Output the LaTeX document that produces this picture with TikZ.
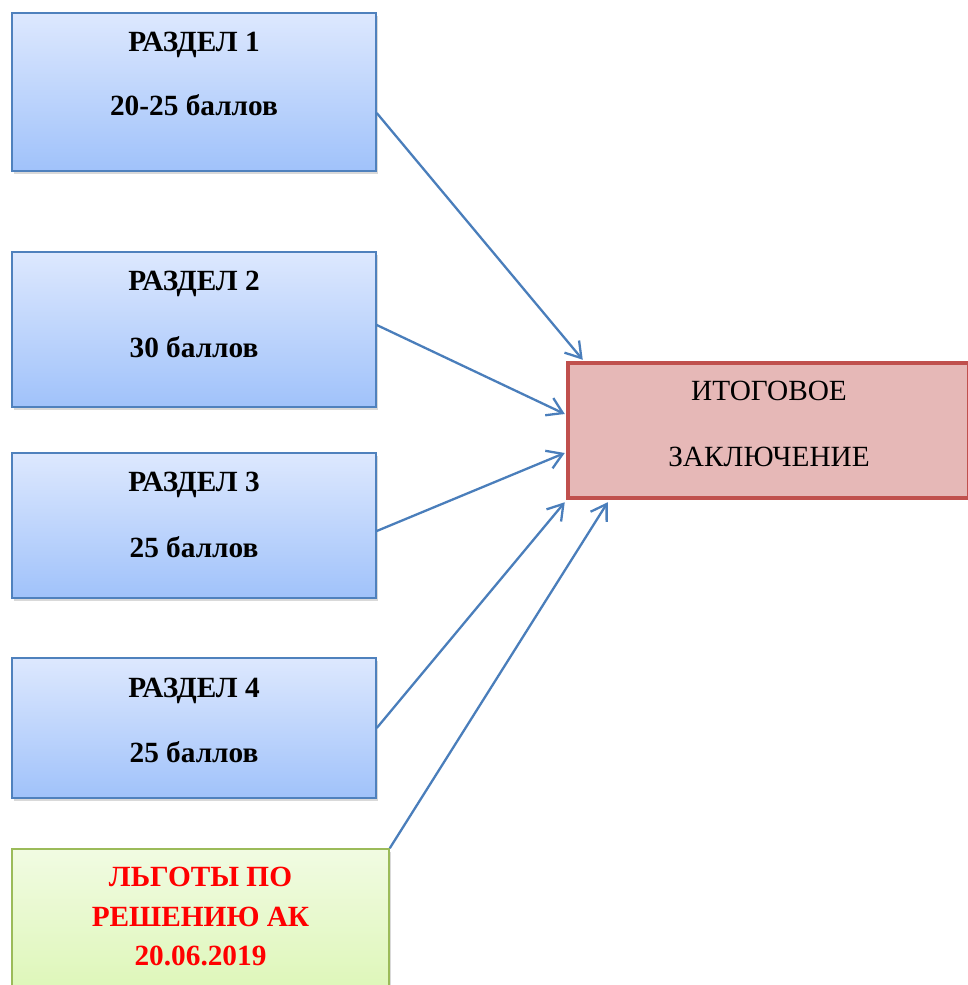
\documentclass[tikz,border=0pt]{standalone}
\usepackage{fontspec}
\setmainfont{Liberation Serif}
\usetikzlibrary{arrows.meta,shadows,calc}
\definecolor{bluetop}{RGB}{221,232,254}
\definecolor{bluebot}{RGB}{160,194,250}
\definecolor{blueline}{RGB}{79,129,189}
\definecolor{greentop}{RGB}{241,251,226}
\definecolor{greenbot}{RGB}{214,245,168}
\definecolor{greenline}{RGB}{155,187,89}
\definecolor{redfill}{RGB}{230,184,183}
\definecolor{redline}{RGB}{192,80,77}
\definecolor{arrowblue}{RGB}{74,126,187}
\begin{document}
\begin{tikzpicture}[x=1pt,y=-1pt,
  bluebox/.style={draw=blueline, line width=1.5pt, top color=bluetop, bottom color=bluebot,
    drop shadow={shadow xshift=2pt, shadow yshift=-2.5pt, opacity=0.3}, inner sep=0pt},
  greenbox/.style={draw=greenline, line width=1.5pt, top color=greentop, bottom color=greenbot,
    drop shadow={shadow xshift=2pt, shadow yshift=-2.5pt, opacity=0.3}, inner sep=0pt},
  redbox/.style={draw=redline, line width=4.5pt, fill=redfill, inner sep=0pt},
  boldtxt/.style={font=\fontsize{29.3}{34}\selectfont\bfseries, anchor=base, inner sep=0pt},
  redtxt/.style={boldtxt, text=red},
  plaintxt/.style={font=\fontsize{29.3}{34}\selectfont, anchor=base, inner sep=0pt},
  conn/.style={draw=arrowblue, line width=2.3pt, -{Straight Barb[length=15pt,width=19pt]}}
]
\useasboundingbox (0,0) rectangle (967,985);

\node[bluebox, minimum width=364pt, minimum height=158pt] (b1) at (194,92) {};
\node[bluebox, minimum width=364pt, minimum height=155pt] (b2) at (194,329.5) {};
\node[bluebox, minimum width=364pt, minimum height=145pt] (b3) at (194,525.5) {};
\node[bluebox, minimum width=364pt, minimum height=140pt] (b4) at (194,728) {};
\node[greenbox, minimum width=377pt, minimum height=200pt] (g) at (200.5,949) {};
\node[redbox, minimum width=401pt, minimum height=135pt] (r) at (768.5,430.5) {};

\node[boldtxt] (t1a) at (194,51) {РАЗДЕЛ 1};
\node[boldtxt] (t1b) at (194,115) {20-25 баллов};
\node[boldtxt] (t2a) at (194,290) {РАЗДЕЛ 2};
\node[boldtxt] (t2b) at (194,357) {30 баллов};
\node[boldtxt] (t3a) at (194,491) {РАЗДЕЛ 3};
\node[boldtxt] (t3b) at (194,557) {25 баллов};
\node[boldtxt] (t4a) at (194,697) {РАЗДЕЛ 4};
\node[boldtxt] (t4b) at (194,762) {25 баллов};
\node[redtxt] (ga) at (200.5,886) {ЛЬГОТЫ ПО};
\node[redtxt] (gb) at (200.5,926) {РЕШЕНИЮ АК};
\node[redtxt] (gc) at (200.5,965) {20.06.2019};
\node[plaintxt] (ra) at (769,400) {ИТОГОВОЕ};
\node[plaintxt] (rb) at (769,466) {ЗАКЛЮЧЕНИЕ};

\draw[conn] ($(b1.east)+(0,21)$) -- ($(r.north west)+(17,-1)$);
\draw[conn] ($(b2.east)+(0,-4.5)$) -- ($(r.west)+(-1,-16.5)$);
\draw[conn] ($(b3.east)+(0,5.5)$) -- ($(r.west)+(-1,22.5)$);
\draw[conn] (b4.east) -- ($(r.south west)+(-1,2)$);
\draw[conn] (g.north east) -- ($(r.south west)+(42,2)$);
\end{tikzpicture}
\end{document}
